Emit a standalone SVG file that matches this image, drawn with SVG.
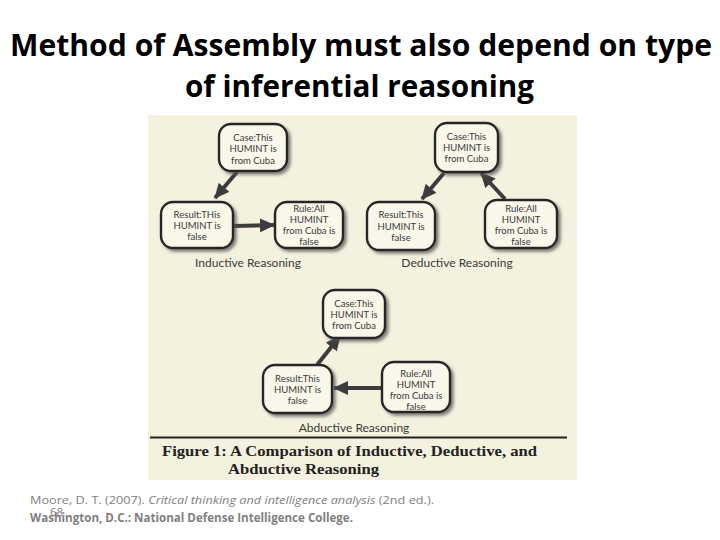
<svg xmlns="http://www.w3.org/2000/svg" width="720" height="540" viewBox="0 0 720 540">
<defs>
<filter id="shadow" x="-20%" y="-20%" width="150%" height="150%">
<feDropShadow dx="2.5" dy="2.5" stdDeviation="1.6" flood-color="#555" flood-opacity="0.75"/>
</filter>
<marker id="head" markerUnits="userSpaceOnUse" markerWidth="16" markerHeight="14" refX="14" refY="7" orient="auto">
<path d="M0,0 L15,7 L0,14 Z" fill="#3c3c3c"/>
</marker>
<style>
.title{font-family:"Open Sans","Liberation Sans",sans-serif;font-weight:bold;font-size:30px;fill:#000}
.box{fill:#f9f6ea;stroke:#262626;stroke-width:2.4;filter:url(#shadow)}
.nt{font-family:Lato,"Liberation Sans",sans-serif;font-size:9.5px;fill:#3a3a3a;text-anchor:middle}
.lab{font-family:Lato,"Liberation Sans",sans-serif;font-size:12px;fill:#3a3a3a;text-anchor:middle}
.arr{stroke:#3c3c3c;stroke-width:4;fill:none;marker-end:url(#head)}
.cap{font-family:"Liberation Serif",serif;font-weight:bold;font-size:15.5px;fill:#222}
.cite{font-family:"Open Sans","Liberation Sans",sans-serif;font-size:11.5px;fill:#808080}
</style>
</defs>
<rect width="720" height="540" fill="#fff"/>
<text class="title" x="10" y="56" textLength="702" lengthAdjust="spacingAndGlyphs">Method of Assembly must also depend on type</text>
<text class="title" x="185" y="97" textLength="349" lengthAdjust="spacingAndGlyphs">of inferential reasoning</text>
<rect id="figure-bg" x="148" y="115" width="429" height="365" fill="#f5f1df"/>
<g id="connectors">
<line class="arr" x1="237" y1="172" x2="215" y2="198"/>
<line class="arr" x1="233" y1="226" x2="274" y2="225"/>
<line class="arr" x1="444" y1="173" x2="422" y2="199"/>
<line class="arr" x1="505" y1="199" x2="481" y2="173"/>
<line class="arr" x1="317" y1="365" x2="340" y2="336"/>
<line class="arr" x1="382" y1="388" x2="334" y2="388"/>
</g>
<g id="ind-case"><rect class="box" x="219" y="124" width="68" height="47" rx="12"/>
<text class="nt" x="253" y="141">Case:This</text><text class="nt" x="253" y="152">HUMINT is</text><text class="nt" x="253" y="164">from Cuba</text></g>
<g id="ind-result"><rect class="box" x="161" y="202" width="72" height="46" rx="12"/>
<text class="nt" x="197" y="218">Result:THis</text><text class="nt" x="197" y="229">HUMINT is</text><text class="nt" x="197" y="240">false</text></g>
<g id="ind-rule"><rect class="box" x="275" y="202" width="68" height="46" rx="12"/>
<text class="nt" x="309" y="212">Rule:All</text><text class="nt" x="309" y="223">HUMINT</text><text class="nt" x="309" y="234">from Cuba is</text><text class="nt" x="309" y="245">false</text></g>
<text class="lab" x="248" y="267">Inductive Reasoning</text>
<g id="ded-case"><rect class="box" x="435" y="123" width="63" height="49" rx="12"/>
<text class="nt" x="466.5" y="140">Case:This</text><text class="nt" x="466.5" y="151">HUMINT is</text><text class="nt" x="466.5" y="162">from Cuba</text></g>
<g id="ded-result"><rect class="box" x="367" y="202" width="68" height="48" rx="12"/>
<text class="nt" x="401" y="218">Result:This</text><text class="nt" x="401" y="230">HUMINT is</text><text class="nt" x="401" y="241">false</text></g>
<g id="ded-rule"><rect class="box" x="485" y="200" width="72" height="48" rx="12"/>
<text class="nt" x="521" y="212">Rule:All</text><text class="nt" x="521" y="223">HUMINT</text><text class="nt" x="521" y="234">from Cuba is</text><text class="nt" x="521" y="245">false</text></g>
<text class="lab" x="457" y="267">Deductive Reasoning</text>
<g id="abd-case"><rect class="box" x="323" y="290" width="62" height="48" rx="12"/>
<text class="nt" x="354" y="307">Case:This</text><text class="nt" x="354" y="318">HUMINT is</text><text class="nt" x="354" y="329">from Cuba</text></g>
<g id="abd-result"><rect class="box" x="263" y="365" width="69" height="48" rx="12"/>
<text class="nt" x="297.5" y="382">Result:This</text><text class="nt" x="297.5" y="393">HUMINT is</text><text class="nt" x="297.5" y="404">false</text></g>
<g id="abd-rule"><rect class="box" x="382" y="362" width="68" height="50" rx="12"/>
<text class="nt" x="416" y="377">Rule:All</text><text class="nt" x="416" y="388">HUMINT</text><text class="nt" x="416" y="399">from Cuba is</text><text class="nt" x="416" y="410">false</text></g>
<text class="lab" x="354" y="432">Abductive Reasoning</text>
<line x1="150" y1="437.5" x2="567" y2="437.5" stroke="#222" stroke-width="2"/>
<text class="cap" x="162" y="456" textLength="375" lengthAdjust="spacingAndGlyphs">Figure 1: A Comparison of Inductive, Deductive, and</text>
<text class="cap" x="228" y="474" textLength="151" lengthAdjust="spacingAndGlyphs">Abductive Reasoning</text>
<text class="cite" x="30" y="504" textLength="404" lengthAdjust="spacingAndGlyphs">Moore, D. T. (2007). <tspan font-style="italic">Critical thinking and intelligence analysis</tspan> (2nd ed.).</text>
<text class="cite" x="30" y="522" font-weight="bold" textLength="323" lengthAdjust="spacingAndGlyphs">Washington, D.C.: National Defense Intelligence College.</text>
<text class="cite" x="50" y="516" font-size="8.5px">68</text>
</svg>
